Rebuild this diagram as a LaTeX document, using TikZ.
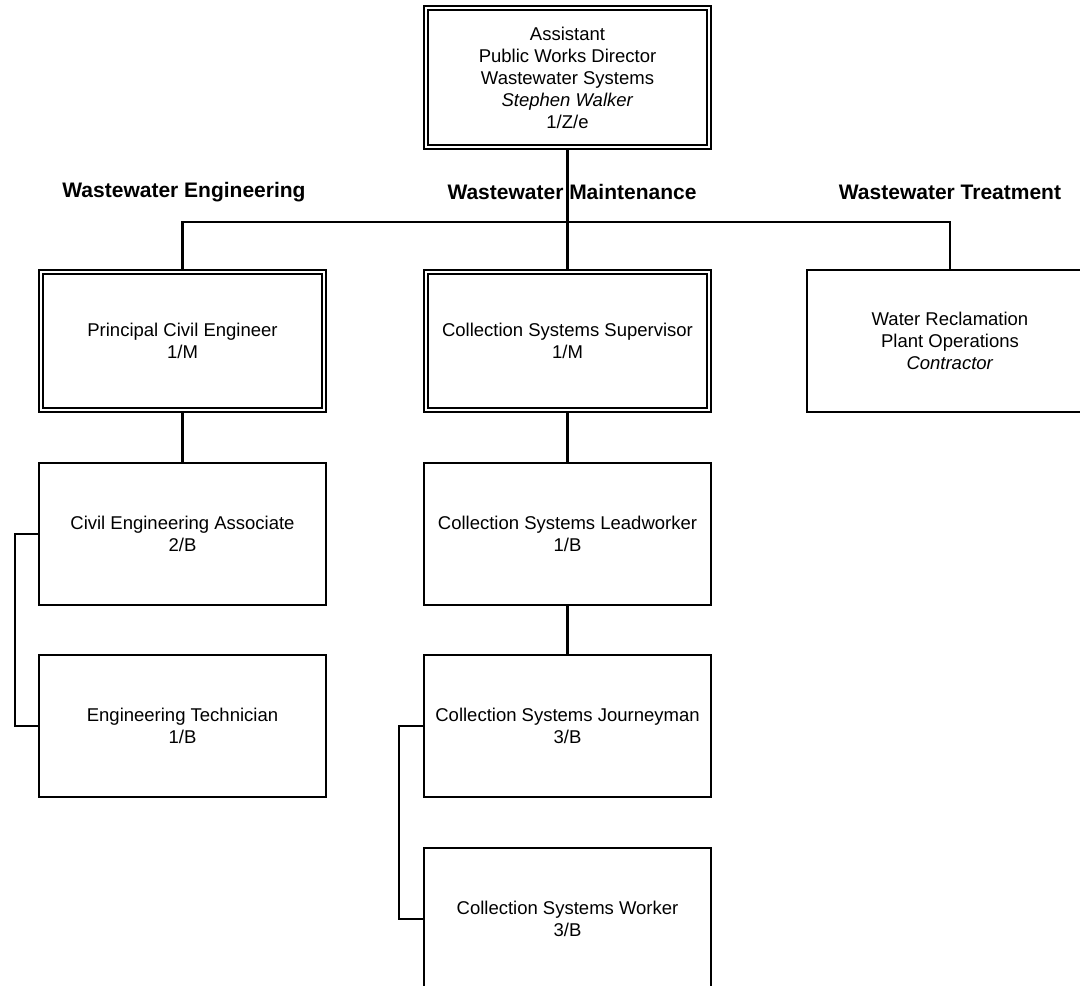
\documentclass[tikz,border=0pt]{standalone}
\usepackage{fontspec}
\setmainfont{Liberation Sans}
\usetikzlibrary{backgrounds}

\tikzstyle{post}=[draw,line width=2.4pt,fill=white,inner sep=0pt,align=center,minimum width=286.6pt,minimum height=141.6pt,font=\fontsize{18.5}{22}\selectfont]
\tikzstyle{lead}=[post,double,double distance=2.4pt,line width=1.9pt,minimum width=283pt,minimum height=138pt]
\tikzstyle{division}=[font=\fontsize{21}{25}\selectfont\bfseries]
\tikzstyle{link}=[draw,line width=2.6pt]

\begin{document}
\begin{tikzpicture}[x=1pt, y=-1pt]
    \useasboundingbox (0,0) rectangle (1080,986);
    \clip (0,0) rectangle (1080,986);

    % First the director and the three divisions
    \node[lead, minimum height=139pt] (apwd) at (567.5,77.5) {Assistant\\Public Works Director\\Wastewater Systems\\\textit{Stephen Walker}\\1/Z/e};
    \node[division] (eng) at (184,192) {Wastewater Engineering};
    \node[division] (mnt) at (572,192) {Wastewater Maintenance};
    \node[division] (trt) at (950,192) {Wastewater Treatment};

    % Then the positions, column by column
    \node[lead] (pce) at (182.5,341) {Principal Civil Engineer\\1/M};
    \node[post] (cea) at (182.5,534) {Civil Engineering Associate\\2/B};
    \node[post] (et)  at (182.5,726) {Engineering Technician\\1/B};

    \node[lead] (css) at (567.5,341) {Collection Systems Supervisor\\1/M};
    \node[post] (csl) at (567.5,534) {Collection Systems Leadworker\\1/B};
    \node[post] (csj) at (567.5,726) {Collection Systems Journeyman\\3/B};
    \node[post] (csw) at (567.5,919) {Collection Systems Worker\\3/B};

    \node[post] (wrp) at (950,341) {Water Reclamation\\Plant Operations\\\textit{Contractor}};

    % Connect them behind the boxes
    \begin{scope}[on background layer]
        \coordinate (bus) at (0,222);
        \path[link] (pce.north) -- (pce.north |- bus) -- (wrp.north |- bus) -- (wrp.north);
        \foreach \source/\dest in {apwd/css, pce/cea, css/csl, csl/csj}
            \path[link] (\source) -- (\dest);
        \path[link] (cea.west) -- ++(-23,0) |- (et.west);
        \path[link] (csj.west) -- ++(-24,0) |- (csw.west);
    \end{scope}
\end{tikzpicture}
\end{document}
